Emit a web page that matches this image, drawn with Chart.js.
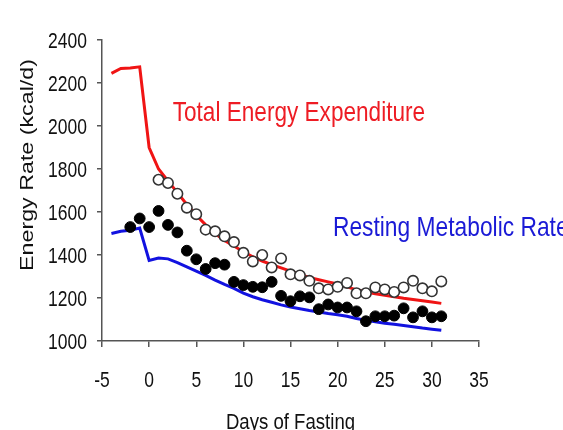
<!DOCTYPE html>
<html>
<head>
<meta charset="utf-8">
<title>Energy Rate during Fasting</title>
<script src="https://cdn.jsdelivr.net/npm/chart.js@4/dist/chart.umd.min.js"></script>
<style>
  html, body { margin: 0; padding: 0; background: #ffffff; }
  canvas { display: block; }
</style>
</head>
<body>
<canvas id="energyChart" width="563" height="430"></canvas>
<script>
// Axis ticks
const xTicks = [-5, 0, 5, 10, 15, 20, 25, 30, 35];
const yTicks = [1000, 1200, 1400, 1600, 1800, 2000, 2200, 2400];

// Predicted curves (kcal/d) by day of fasting
const curveDays = [-4, -3, -2, -1, 0, 1, 2, 3, 4, 5, 6, 7, 8, 9, 10, 11, 12, 13, 14, 15,
  16, 17, 18, 19, 20, 21, 22, 23, 24, 25, 26, 27, 28, 29, 30, 31];
const teeCurve = [2245, 2268, 2270, 2275, 1900, 1800, 1745, 1690, 1635, 1585, 1540, 1500,
  1468, 1442, 1415, 1392, 1372, 1355, 1340, 1325, 1310, 1296, 1285, 1275, 1265, 1252,
  1238, 1228, 1220, 1213, 1206, 1199, 1193, 1187, 1181, 1175];
const rmrCurve = [1500, 1510, 1515, 1525, 1375, 1386, 1382, 1365, 1345, 1325, 1305, 1283,
  1263, 1245, 1223, 1206, 1192, 1180, 1168, 1158, 1150, 1142, 1135, 1128, 1122, 1115,
  1105, 1096, 1090, 1083, 1078, 1072, 1066, 1060, 1055, 1050];

// Measured total energy expenditure (open circles)
const teeDays = [1, 2, 3, 4, 5, 6, 7, 8, 9, 10, 11, 12, 13, 14, 15, 16, 17, 18, 19, 20,
  21, 22, 23, 24, 25, 26, 27, 28, 29, 30, 31];
const teeMeasured = [1750, 1735, 1685, 1620, 1590, 1518, 1510, 1487, 1460, 1410, 1370,
  1400, 1342, 1384, 1310, 1305, 1280, 1245, 1240, 1252, 1270, 1222, 1222, 1249, 1240,
  1228, 1249, 1280, 1245, 1231, 1277];

// Measured resting metabolic rate (filled circles)
const rmrDays = [-2, -1, 0, 1, 2, 3, 4, 5, 6, 7, 8, 9, 10, 11, 12, 13, 14, 15, 16, 17,
  18, 19, 20, 21, 22, 23, 24, 25, 26, 27, 28, 29, 30, 31];
const rmrMeasured = [1530, 1570, 1530, 1605, 1540, 1505, 1420, 1380, 1335, 1362, 1355,
  1275, 1260, 1252, 1250, 1275, 1210, 1185, 1208, 1203, 1148, 1170, 1156, 1156, 1138,
  1092, 1115, 1115, 1118, 1152, 1110, 1138, 1110, 1115];

const toPoints = (xs, ys) => xs.map((x, i) => ({ x: x, y: ys[i] }));

const FONT = '"Liberation Sans", Arial, Helvetica, sans-serif';
const STRETCH = 1.22; // text in this figure is drawn taller than wide

function tallText(ctx, text, x, y, size, color, align) {
  ctx.save();
  ctx.translate(x, y);
  ctx.scale(1, STRETCH);
  ctx.font = size + 'px ' + FONT;
  ctx.fillStyle = color;
  ctx.textAlign = align;
  ctx.textBaseline = 'alphabetic';
  ctx.fillText(text, 0, 0);
  ctx.restore();
}

// tick labels, axis titles and the two curve captions
const labelPlugin = {
  id: 'labels',
  afterDraw(chart) {
    const ctx = chart.ctx;
    const xs = chart.scales.x;
    const ys = chart.scales.y;
    const area = chart.chartArea;

    ys.ticks.forEach(t => {
      tallText(ctx, String(t.value), area.left - 15, ys.getPixelForValue(t.value) + 7.5, 17.5, '#111', 'right');
    });
    xs.ticks.forEach(t => {
      tallText(ctx, String(t.value), xs.getPixelForValue(t.value), area.bottom + 46, 17.5, '#111', 'center');
    });

    tallText(ctx, 'Days of Fasting', (area.left + area.right) / 2, area.bottom + 88, 18.6, '#111', 'center');

    ctx.save();
    ctx.translate(33, 165);
    ctx.rotate(-Math.PI / 2);
    ctx.scale(1.25, 1);
    ctx.font = '18.6px ' + FONT;
    ctx.fillStyle = '#111';
    ctx.textAlign = 'center';
    ctx.textBaseline = 'alphabetic';
    ctx.fillText('Energy Rate (kcal/d)', 0, 0);
    ctx.restore();

    tallText(ctx, 'Total Energy Expenditure', xs.getPixelForValue(2.5), ys.getPixelForValue(2023), 22.6, '#ee1c24', 'left');
    tallText(ctx, 'Resting Metabolic Rate', xs.getPixelForValue(19.5), ys.getPixelForValue(1487), 22.8, '#1a1ad6', 'left');
  }
};

const axisColor = '#555';

new Chart(document.getElementById('energyChart'), {
  type: 'line',
  data: {
    datasets: [
      {
        label: 'TEE measured',
        data: toPoints(teeDays, teeMeasured),
        showLine: false,
        pointRadius: 5.2,
        pointBackgroundColor: '#ffffff',
        pointBorderColor: '#333333',
        pointBorderWidth: 1.6
      },
      {
        label: 'RMR measured',
        data: toPoints(rmrDays, rmrMeasured),
        showLine: false,
        pointRadius: 5.4,
        pointBackgroundColor: '#000000',
        pointBorderColor: '#000000',
        pointBorderWidth: 1
      },
      {
        label: 'Total Energy Expenditure',
        data: toPoints(curveDays, teeCurve),
        borderColor: '#f01414',
        borderWidth: 3,
        pointRadius: 0,
        tension: 0
      },
      {
        label: 'Resting Metabolic Rate',
        data: toPoints(curveDays, rmrCurve),
        borderColor: '#1212e0',
        borderWidth: 3,
        pointRadius: 0,
        tension: 0
      }
    ]
  },
  options: {
    responsive: false,
    animation: false,
    layout: { padding: { left: 0, top: 40, right: 84, bottom: 0 } },
    plugins: {
      legend: { display: false },
      tooltip: { enabled: false }
    },
    scales: {
      x: {
        type: 'linear',
        min: -5,
        max: 35,
        afterBuildTicks: scale => { scale.ticks = xTicks.map(v => ({ value: v })); },
        afterFit: scale => { scale.height = 89; },
        ticks: { display: false },
        grid: { drawOnChartArea: false, drawTicks: true, tickLength: 6, color: axisColor, lineWidth: 1.5 },
        border: { display: true, color: axisColor, width: 1.5 }
      },
      y: {
        type: 'linear',
        min: 1000,
        max: 2400,
        afterBuildTicks: scale => { scale.ticks = yTicks.map(v => ({ value: v })); },
        afterFit: scale => { scale.width = 102; },
        ticks: { display: false },
        grid: { drawOnChartArea: false, drawTicks: true, tickLength: 5, color: axisColor, lineWidth: 1.5 },
        border: { display: true, color: axisColor, width: 1.5 }
      }
    }
  },
  plugins: [labelPlugin]
});
</script>
</body>
</html>
